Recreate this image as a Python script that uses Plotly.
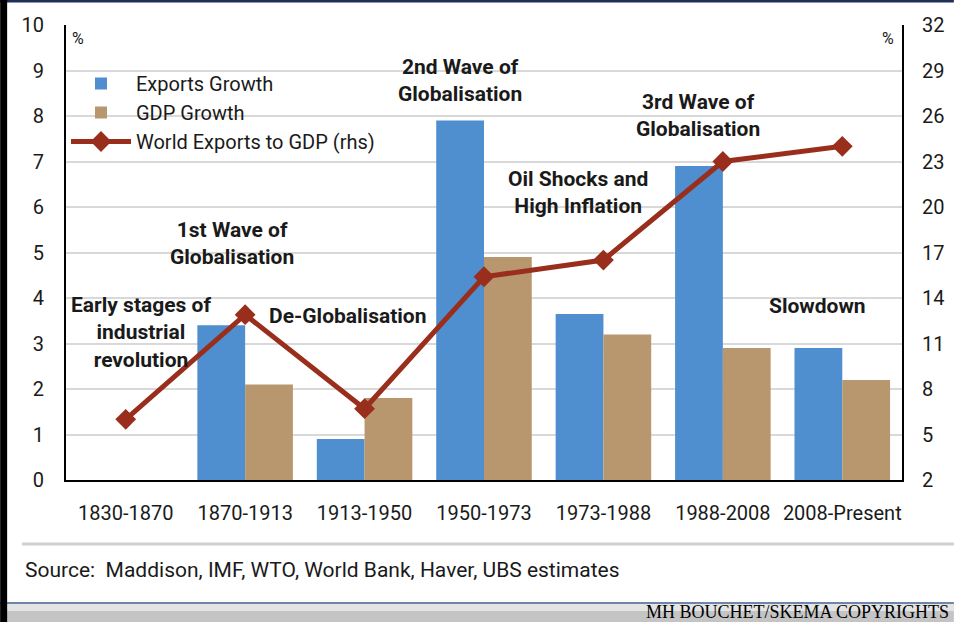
import plotly.graph_objects as go

periods = ["1830-1870", "1870-1913", "1913-1950", "1950-1973", "1973-1988", "1988-2008", "2008-Present"]
exports_growth = [None, 3.4, 0.9, 7.9, 3.65, 6.9, 2.9]
gdp_growth = [None, 2.1, 1.8, 4.9, 3.2, 2.9, 2.2]
exports_to_gdp = [6.0, 12.9, 6.7, 15.4, 16.5, 23.0, 24.0]

left_ticks = list(range(0, 11))
right_ticks = list(range(2, 33, 3))

W, H = 956, 622
L, R, T, B = 66, 52, 25, 142
PW, PH = W - L - R, H - T - B


def px(x):
    return (x - L) / PW


def py(y):
    return (H - B - y) / PH


font = "Roboto, sans-serif"
ink = "#1a1a1a"

fig = go.Figure()
fig.add_trace(go.Bar(x=periods, y=exports_growth, name="Exports Growth", marker_color="#4F8ECF",
                     marker_line_width=0))
fig.add_trace(go.Bar(x=periods, y=gdp_growth, name="GDP Growth", marker_color="#B8976F",
                     marker_line_width=0))
fig.add_trace(go.Scatter(x=periods, y=exports_to_gdp, name="World Exports to GDP (rhs)", yaxis="y2",
                         mode="lines+markers", line=dict(color="#9A2E1C", width=5),
                         marker=dict(symbol="diamond", size=16, color="#9A2E1C")))

fig.update_xaxes(showline=True, linecolor="black", linewidth=2, showgrid=False, ticks="",
                 tickfont=dict(size=20, color=ink, family=font), ticklabelstandoff=14)
fig.update_yaxes(range=[0, 10], tickvals=left_ticks, showline=True, linecolor="black", linewidth=2,
                 gridcolor="#D9D9D9", gridwidth=2, zeroline=False, ticks="",
                 tickfont=dict(size=20, color=ink, family=font), ticklabelstandoff=16)

annos = [
    ("Early stages of<br>industrial<br>revolution", 0.125, 3.25),
    ("1st Wave of<br>Globalisation", 0.886, 5.2),
    ("De-Globalisation", 1.855, 3.6),
    ("2nd Wave of<br>Globalisation", 2.80, 8.79),
    ("Oil Shocks and<br>High Inflation", 3.79, 6.31),
    ("3rd Wave of<br>Globalisation", 4.79, 8.02),
    ("Slowdown", 5.79, 3.82),
]
annotations = [dict(text=f"<b>{t}</b>", x=x, y=y, xref="x", yref="y", showarrow=False,
                    font=dict(size=21, color=ink, family=font)) for t, x, y in annos]
annotations += [
    dict(text="%", x=px(70), y=py(38), xref="paper", yref="paper", xanchor="left", yanchor="middle",
         showarrow=False, font=dict(size=16, color=ink, family=font)),
    dict(text="%", x=px(898), y=py(38), xref="paper", yref="paper", xanchor="right", yanchor="middle",
         showarrow=False, font=dict(size=16, color=ink, family=font)),
    dict(text="Source:  Maddison, IMF, WTO, World Bank, Haver, UBS estimates", x=px(23), y=py(570),
         xref="paper", yref="paper", xanchor="left", yanchor="middle", showarrow=False,
         font=dict(size=21, color=ink, family=font)),
    dict(text="MH BOUCHET/SKEMA COPYRIGHTS", x=px(953), y=py(612), xref="paper", yref="paper",
         xanchor="right", yanchor="middle", showarrow=False,
         font=dict(size=18, color="black", family="Liberation Serif")),
]

shapes = [
    # separator above source line
    dict(type="line", x0=px(22), x1=px(956), y0=py(544), y1=py(544), xref="paper", yref="paper",
         line=dict(color="#CFCFCF", width=3)),
    # bottom band
    dict(type="rect", x0=px(0), x1=px(956), y0=py(603), y1=py(622), xref="paper", yref="paper",
         fillcolor="#C4C4C4", line_width=0, layer="below"),
    dict(type="rect", x0=px(0), x1=px(956), y0=py(603), y1=py(611), xref="paper", yref="paper",
         fillcolor="#E4E4E4", line_width=0, layer="below"),
    dict(type="line", x0=px(0), x1=px(956), y0=py(603), y1=py(603), xref="paper", yref="paper",
         line=dict(color="#6F86A8", width=2)),
    # frame
    dict(type="line", x0=px(0), x1=px(956), y0=py(1), y1=py(1), xref="paper", yref="paper",
         line=dict(color="#1F2F5A", width=3)),
    dict(type="rect", x0=px(0), x1=px(7), y0=py(0), y1=py(622), xref="paper", yref="paper",
         fillcolor="black", line_width=0),
]

fig.update_layout(
    width=W, height=H, margin=dict(l=L, r=R, t=T, b=B),
    barmode="group", bargap=0.2, bargroupgap=0,
    plot_bgcolor="white", paper_bgcolor="white",
    yaxis2=dict(overlaying="y", side="right", range=[2, 32], tickvals=right_ticks, showgrid=False,
                showline=True, linecolor="black", linewidth=2, zeroline=False, ticks="",
                tickfont=dict(size=20, color=ink, family=font), ticklabelstandoff=14),
    legend=dict(x=px(66), y=py(64), xanchor="left", yanchor="top", bgcolor="rgba(0,0,0,0)",
                font=dict(size=20, color=ink, family=font), itemwidth=60, tracegroupgap=0),
    annotations=annotations, shapes=shapes, showlegend=True,
)

fig.write_html("out.html", config={"displayModeBar": False},
               post_script="document.body.style.margin='0';")
